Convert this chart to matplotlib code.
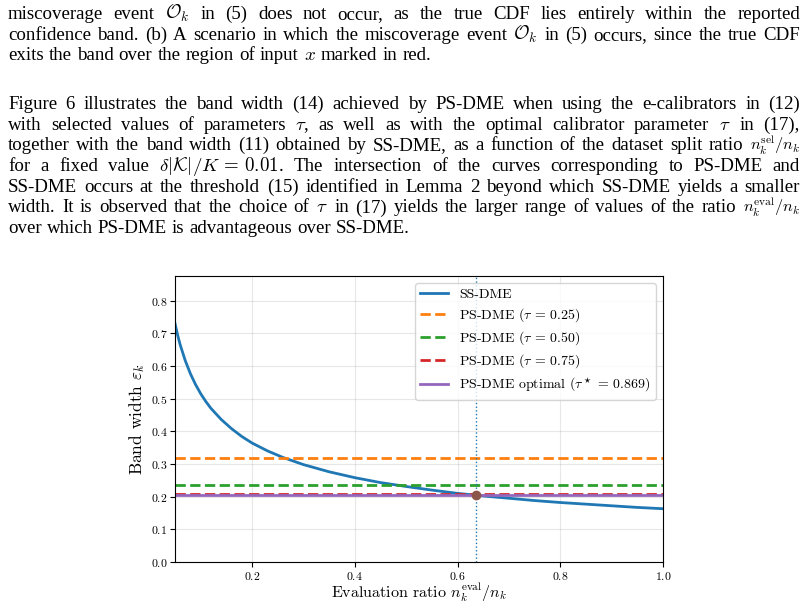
import re
import matplotlib
matplotlib.use("Agg")
import matplotlib.pyplot as plt

plt.rcParams['font.family'] = 'serif'
plt.rcParams['font.serif'] = ['cmr10']
plt.rcParams['mathtext.fontset'] = 'cm'
plt.rcParams['axes.formatter.use_mathtext'] = True

# SS-DME band width
ratio = [0.05, 0.055, 0.06, 0.07, 0.08, 0.09, 0.10, 0.11, 0.12, 0.14, 0.16, 0.18,
         0.20, 0.23, 0.26, 0.30, 0.35, 0.40, 0.45, 0.50, 0.55, 0.60, 0.65, 0.70,
         0.75, 0.80, 0.85, 0.90, 0.95, 1.00]
ss_dme = [0.730, 0.695, 0.665, 0.616, 0.576, 0.543, 0.515, 0.491, 0.470, 0.436, 0.408, 0.384,
          0.364, 0.340, 0.320, 0.298, 0.276, 0.258, 0.243, 0.231, 0.220, 0.210, 0.202, 0.195,
          0.188, 0.182, 0.177, 0.172, 0.167, 0.163]

# PS-DME widths (constant in the ratio)
tau_values = ['0.25', '0.50', '0.75']
ps_dme = [0.318, 0.237, 0.209]
tau_star = '0.869'
ps_dme_opt = 0.204
threshold = 0.636

caption_lines = [
    r"miscoverage event $\mathcal{O}_k$ in (5) does not occur, as the true CDF lies entirely within the reported",
    r"confidence band. (b) A scenario in which the miscoverage event $\mathcal{O}_k$ in (5) occurs, since the true CDF",
    r"exits the band over the region of input $x$ marked in red.",
]
para_lines = [
    r"Figure 6 illustrates the band width (14) achieved by PS-DME when using the e-calibrators in (12)",
    r"with selected values of parameters $\tau$, as well as with the optimal calibrator parameter $\tau$ in (17),",
    r"together with the band width (11) obtained by SS-DME, as a function of the dataset split ratio $n_k^{\mathrm{sel}}/n_k$",
    r"for a fixed value $\delta|\mathcal{K}|/K\,=\,0.01$. The intersection of the curves corresponding to PS-DME and",
    r"SS-DME occurs at the threshold (15) identified in Lemma 2 beyond which SS-DME yields a smaller",
    r"width. It is observed that the choice of $\tau$ in (17) yields the larger range of values of the ratio $n_k^{\mathrm{eval}}/n_k$",
    r"over which PS-DME is advantageous over SS-DME.",
]

W, H = 807, 611
fig = plt.figure(figsize=(W / 100, H / 100), dpi=100)


def draw_justified(lines, baseline0, step, size=13.6, left=8, right=800):
    # place word by word so every line but the last fills the text width
    renderer = fig.canvas.get_renderer()
    space = size * 100 / 72 * 0.27
    for i, line in enumerate(lines):
        words = re.findall(r'\$[^$]*\$\S*|\S+', line)
        y = 1 - (baseline0 + i * step) / H
        texts = []
        for w in words:
            # ratios with a superscript sit a bit smaller, as in the page
            s = size * 0.86 if '^' in w else size
            texts.append(fig.text(0, y, w, fontsize=s, family='Liberation Serif',
                                  math_fontfamily='cm', va='baseline'))
        widths = [t.get_window_extent(renderer).width for t in texts]
        if i == len(lines) - 1:
            gap = space
        else:
            gap = max((right - left - sum(widths)) / (len(words) - 1), 2)
        x = left
        for t, w in zip(texts, widths):
            t.set_x(x / W)
            x += w + gap


draw_justified(caption_lines, 19, 20.6)
draw_justified(para_lines, 109, 20.7)

ax = fig.add_axes([175 / W, 49 / H, 488 / W, 286 / H])

ax.plot(ratio, ss_dme, color='tab:blue', lw=2, label='SS-DME')
for color, tau, width in zip(['tab:orange', 'tab:green', 'tab:red'], tau_values, ps_dme):
    ax.axhline(width, color=color, ls='--', lw=2, label=rf'PS-DME ($\tau$ = {tau})')
ax.axhline(ps_dme_opt, color='tab:purple', lw=2,
           label=rf'PS-DME optimal ($\tau^\star$ = {tau_star})')
ax.axvline(threshold, color='tab:blue', ls=':', lw=1)
ax.plot([threshold], [ps_dme_opt], 'o', color='tab:brown', ms=6, zorder=5)

ax.set_xlim(0.05, 1.0)
ax.set_ylim(0, 0.875)
ax.set_xticks([0.2, 0.4, 0.6, 0.8, 1.0])
ax.set_yticks([0.0, 0.1, 0.2, 0.3, 0.4, 0.5, 0.6, 0.7, 0.8])
ax.grid(True, alpha=0.3)
ax.tick_params(labelsize=8.5, pad=2)
ax.set_xlabel(r'Evaluation ratio $n_k^{\mathrm{eval}}/n_k$', fontsize=11.5)
ax.set_ylabel(r'Band width $\varepsilon_k$', fontsize=12.5)
ax.xaxis.set_label_coords(0.5, -0.068)
ax.yaxis.set_label_coords(-0.057, 0.5)
ax.legend(loc='upper right', fontsize=10, labelspacing=0.38)

fig.savefig('out.png', dpi=100)
